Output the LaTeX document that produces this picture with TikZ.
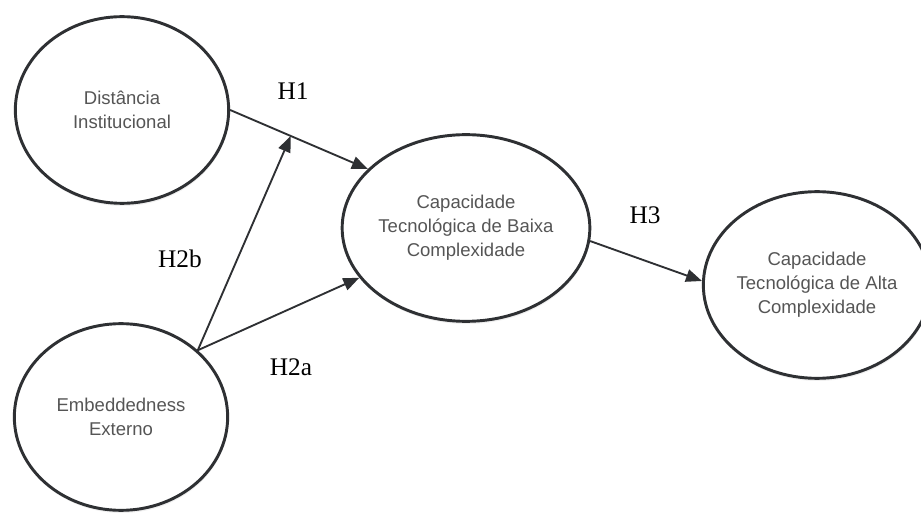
\documentclass[tikz,border=0pt]{standalone}
\usepackage{fontspec}
\setmainfont{Liberation Serif}
\setsansfont{Liberation Sans}
\usetikzlibrary{arrows.meta, shapes.geometric, shadows}
\definecolor{lineGray}{HTML}{2E3033}
\definecolor{textGray}{HTML}{555555}

\begin{document}
\begin{tikzpicture}[
      x=0.75pt, y=-0.75pt,
      construct/.style={ellipse, draw=lineGray, fill=white, line width=2.2pt, minimum width=160pt, minimum height=140pt, inner sep=0pt, align=center, text=textGray, font=\sffamily\fontsize{13.9}{18}\selectfont, drop shadow={opacity=0.12, shadow xshift=0.5pt, shadow yshift=-2pt}},
      hyp/.style={font=\fontsize{19}{19}\selectfont},
      link/.style={draw=lineGray, line width=1.4pt},
      >={Triangle[length=12pt,width=9.5pt]},
    ]
    \useasboundingbox (0,0) rectangle (921,513);

    \node[construct] (dist) at (122,110) {Distância\\Institucional};
    \node[construct] (emb) at (121,417) {Embeddedness\\Externo};
    \node[construct, minimum width=154pt] (baixa) at (466,228) {Capacidade\\Tecnológica de Baixa\\Complexidade};
    \node[construct, minimum width=151pt] (alta) at (817,285) {Capacidade\\Tecnológica de Alta\\Complexidade};

    % Hypotheses
    \draw[link, ->] (dist.east) -- coordinate[pos=0.44] (mod) (baixa.149);
    \draw[link, ->] (emb.41) -- (mod);
    \draw[link, ->] (emb.41) -- (baixa.205);
    \draw[link, ->] (baixa.-6) -- (alta.178);

    \node[hyp] (h1) at (293,91) {H1};
    \node[hyp] (h2b) at (180,259) {H2b};
    \node[hyp] (h2a) at (291,367) {H2a};
    \node[hyp] (h3) at (645,215) {H3};
  \end{tikzpicture}
\end{document}
